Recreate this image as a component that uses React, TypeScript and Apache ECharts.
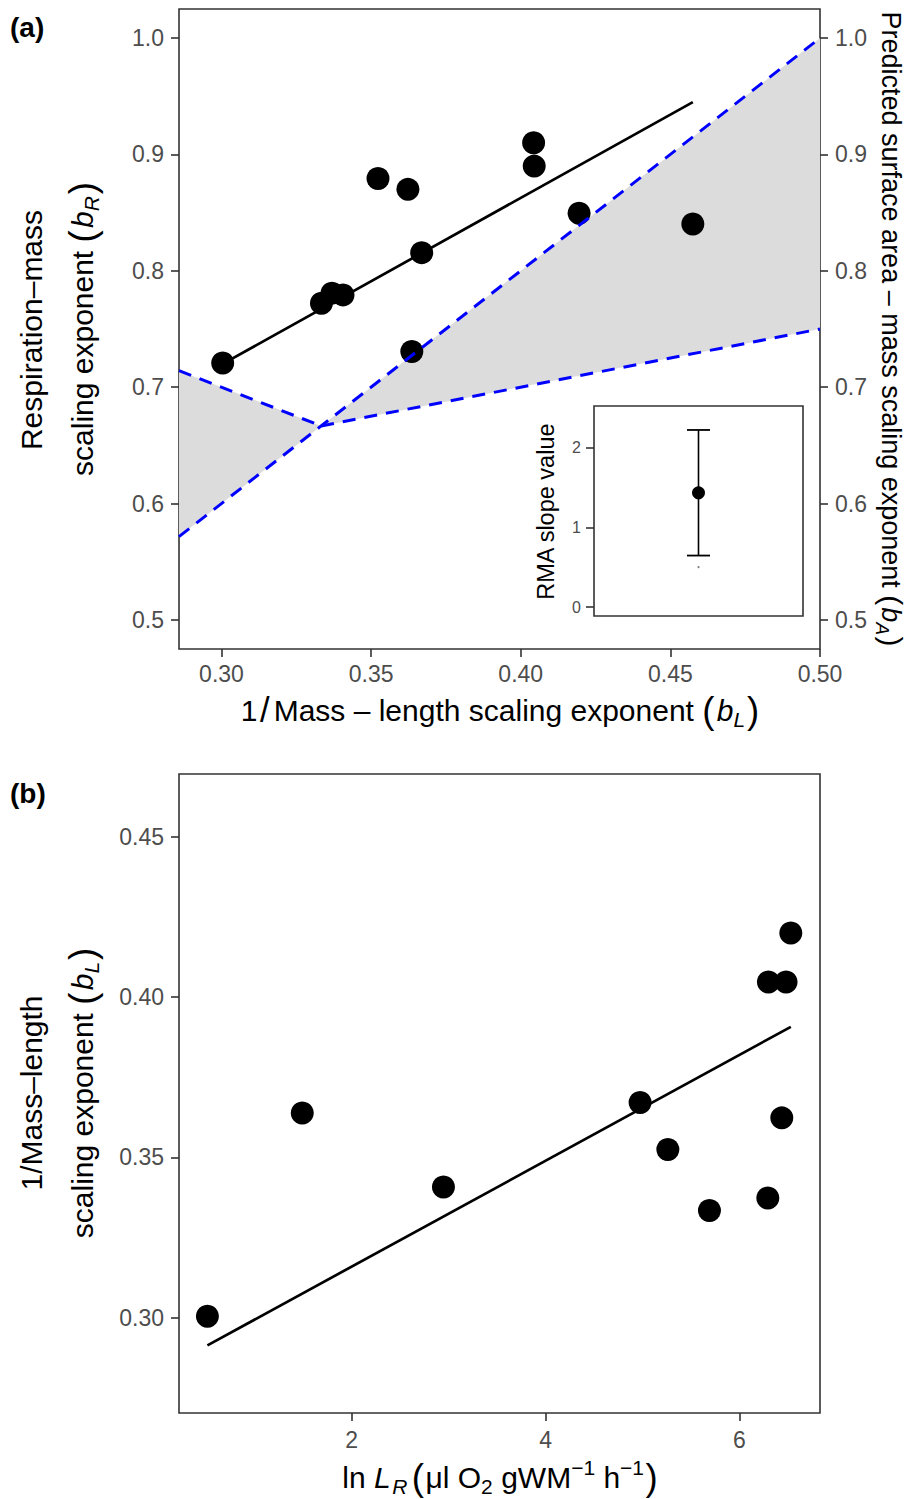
import React, { useEffect, useRef } from "react";
import * as echarts from "echarts";

const FONT = '"Liberation Sans", Arial, Helvetica, sans-serif';
const TICK_TEXT = "#4D4D4D";
const FRAME = "#333333";

// ---------------- Panel (a): b_R vs b_L ----------------
const aBL = [0.3004, 0.3334, 0.3369, 0.3406, 0.3523, 0.3623, 0.3669, 0.3636, 0.4043, 0.4045, 0.4195, 0.4575];
const aBR = [0.7208, 0.7722, 0.7808, 0.7793, 0.8794, 0.87, 0.8156, 0.7307, 0.91, 0.89, 0.8494, 0.8402];
const aFitBL = [0.3004, 0.4575];
const aFitBR = [0.72, 0.945];
// predicted surface-area exponent boundaries (dashed blue)
const isoBL = [0.2858, 0.3333, 0.5];
const isoBA = [0.5716, 0.6667, 1.0];
const leftBL = [0.2858, 0.3333];
const leftBA = [0.7142, 0.6667];
const rightBL = [0.3333, 0.5];
const rightBA = [0.6667, 0.75];
const aXTicks = [0.3, 0.35, 0.4, 0.45, 0.5];
const aYTicks = [0.5, 0.6, 0.7, 0.8, 0.9, 1.0];
const aXRange = [0.2858, 0.5];
const aYRange = [0.475, 1.025];

// ---------------- Inset: RMA slope ----------------
const rmaSlope = [1.434];
const rmaLower = [0.646];
const rmaUpper = [2.223];
const rmaMinorDot = [0.5];
const insetYTicks = [0, 1, 2];
const insetYRange = [-0.113, 2.524];

// ---------------- Panel (b): b_L vs ln L_R ----------------
const bLnLR = [0.513, 1.491, 2.947, 4.975, 5.261, 5.69, 6.292, 6.436, 6.298, 6.48, 6.529];
const bBL = [0.3004, 0.3638, 0.3407, 0.3671, 0.3524, 0.3334, 0.3373, 0.3623, 0.4047, 0.4047, 0.42];
const bFitLnLR = [0.513, 6.529];
const bFitBL = [0.2913, 0.3907];
const bXTicks = [2, 4, 6];
const bYTicks = [0.3, 0.35, 0.4, 0.45];
const bXRange = [0.22, 6.83];
const bYRange = [0.2702, 0.4696];

// ---------------- text helpers ----------------
type Part = { t?: string; it?: boolean; sub?: boolean; sup?: boolean; big?: number; gap?: number };
let measureCtx: CanvasRenderingContext2D | null = null;
function measure(text: string, size: number, italic: boolean, bold = false) {
  if (!measureCtx) measureCtx = document.createElement("canvas").getContext("2d");
  if (!measureCtx) return text.length * size * 0.55;
  measureCtx.font = `${italic ? "italic" : "normal"} ${bold ? "bold" : "normal"} ${size}px ${FONT}`;
  return measureCtx.measureText(text).width;
}
function mathLabel(parts: Part[], f: number, x: number, y: number, rotation = 0, color = "#000") {
  const items = parts.map((p) => {
    const size = p.sub || p.sup ? f * 0.7 : p.big ? f * p.big : f;
    const w = p.gap != null ? p.gap * f : measure(p.t || "", size, !!p.it);
    return { p, size, w };
  });
  const total = items.reduce((s, it) => s + it.w, 0);
  let cur = -total / 2;
  const children: any[] = [];
  for (const it of items) {
    if (it.p.t) {
      children.push({
        type: "text",
        x: cur,
        y: it.p.sub ? f * 0.3 : it.p.sup ? -f * 0.33 : 0,
        style: {
          text: it.p.t,
          fontSize: it.size,
          fontFamily: FONT,
          fontStyle: it.p.it ? "italic" : "normal",
          fill: color,
          align: "left",
          verticalAlign: "middle",
        },
      });
    }
    cur += it.w;
  }
  return { type: "group", x, y, rotation, children, silent: true };
}
const paren = (inner: Part[], big = 1.22): Part[] => [
  { t: "(", big },
  { gap: 0.08 },
  ...inner,
  { gap: 0.06 },
  { t: ")", big },
];

const aYTitle1: Part[] = [{ t: "Respiration–mass" }];
const aYTitle2: Part[] = [{ t: "scaling exponent " }, ...paren([{ t: "b", it: true }, { t: "R", it: true, sub: true }])];
const aY2Title: Part[] = [
  { t: "Predicted surface area – mass scaling exponent " },
  ...paren([{ t: "b", it: true }, { t: "A", it: true, sub: true }], 1.1),
];
const aXTitle: Part[] = [
  { t: "1" },
  { gap: 0.08 },
  { t: "/", big: 1.15 },
  { gap: 0.14 },
  { t: "Mass – length scaling exponent " },
  ...paren([{ t: "b", it: true }, { t: "L", it: true, sub: true }]),
];
const bYTitle1: Part[] = [{ t: "1/Mass–length" }];
const bYTitle2: Part[] = [{ t: "scaling exponent " }, ...paren([{ t: "b", it: true }, { t: "L", it: true, sub: true }])];
const bXTitle: Part[] = [
  { t: "ln " },
  { t: "L", it: true },
  { gap: 0.05 },
  { t: "R", it: true, sub: true },
  { gap: 0.15 },
  { t: "(", big: 1.22 },
  { gap: 0.05 },
  { t: "μl O" },
  { t: "2", sub: true },
  { t: " gWM" },
  { t: "−1", sup: true },
  { t: " h" },
  { t: "−1", sup: true },
  { gap: 0.05 },
  { t: ")", big: 1.22 },
];

function valueAxis(grid: number, range: number[], ticks: number[], fmt: (v: number) => string, extra: any = {}) {
  return {
    type: "value",
    gridIndex: grid,
    min: range[0],
    max: range[1],
    axisLine: { show: false, onZero: false },
    splitLine: { show: false },
    axisTick: {
      show: true,
      inside: false,
      length: extra.tickLength ?? 8,
      lineStyle: { color: FRAME, width: 1.6 },
      customValues: ticks,
    },
    axisLabel: {
      show: true,
      customValues: ticks,
      formatter: (v: number) => fmt(v),
      color: TICK_TEXT,
      fontSize: extra.fontSize ?? 23,
      fontFamily: FONT,
      margin: extra.margin ?? 14,
    },
    position: extra.position,
  };
}

function buildOption() {
  const pairs = (xs: number[], ys: number[]) => xs.map((x, i) => [x, ys[i]]);
  const leftTri = [isoBL[0], isoBA[0], isoBL[1], isoBA[1], leftBL[0], leftBA[0]];
  const rightTri = [isoBL[1], isoBA[1], isoBL[2], isoBA[2], rightBL[1], rightBA[1]];
  const blueStyle = { color: "#0000FF", width: 3, type: [13, 9] as any, cap: "butt" };
  const dot = { color: "#000", opacity: 1 };

  return {
    animation: false,
    backgroundColor: "#ffffff",
    grid: [
      { left: 179, top: 9, width: 641, height: 640, show: true, borderColor: FRAME, borderWidth: 1.6, backgroundColor: "transparent" },
      { left: 594, top: 406, width: 209, height: 210, show: true, borderColor: FRAME, borderWidth: 1.6, backgroundColor: "#ffffff" },
      { left: 179, top: 774, width: 641, height: 639, show: true, borderColor: FRAME, borderWidth: 1.6, backgroundColor: "transparent" },
    ],
    xAxis: [
      valueAxis(0, aXRange, aXTicks, (v) => v.toFixed(2), { margin: 13, position: "bottom" }),
      {
        type: "value",
        gridIndex: 1,
        min: -1,
        max: 1,
        show: false,
        axisLine: { show: false, onZero: false },
        axisTick: { show: false },
        axisLabel: { show: false },
        splitLine: { show: false },
      },
      valueAxis(2, bXRange, bXTicks, (v) => String(Math.round(v)), { margin: 15, position: "bottom" }),
    ],
    yAxis: [
      valueAxis(0, aYRange, aYTicks, (v) => v.toFixed(1), { margin: 15, position: "left" }),
      valueAxis(0, aYRange, aYTicks, (v) => v.toFixed(1), { margin: 15, position: "right" }),
      valueAxis(1, insetYRange, insetYTicks, (v) => String(Math.round(v)), { margin: 13, fontSize: 16, tickLength: 8, position: "left" }),
      valueAxis(2, bYRange, bYTicks, (v) => v.toFixed(2), { margin: 15, position: "left" }),
    ],
    series: [
      {
        type: "custom",
        xAxisIndex: 0,
        yAxisIndex: 0,
        z: 1,
        silent: true,
        data: [leftTri, rightTri],
        dimensions: ["x1", "y1", "x2", "y2", "x3", "y3"],
        encode: { x: [0, 2, 4], y: [1, 3, 5] },
        renderItem: (_p: any, api: any) => {
          const pts = [0, 1, 2].map((i) => api.coord([api.value(2 * i), api.value(2 * i + 1)]));
          return { type: "polygon", shape: { points: pts }, style: { fill: "#DCDCDC" } };
        },
      },
      {
        type: "line",
        xAxisIndex: 0,
        yAxisIndex: 0,
        z: 2,
        symbol: "none",
        data: pairs(aFitBL, aFitBR),
        lineStyle: { color: "#000", width: 2.7 },
      },
      {
        type: "scatter",
        xAxisIndex: 0,
        yAxisIndex: 0,
        z: 3,
        symbol: "circle",
        symbolSize: 23,
        itemStyle: dot,
        data: pairs(aBL, aBR),
      },
      { type: "line", xAxisIndex: 0, yAxisIndex: 0, z: 4, symbol: "none", data: pairs(isoBL, isoBA), lineStyle: blueStyle },
      { type: "line", xAxisIndex: 0, yAxisIndex: 0, z: 4, symbol: "none", data: pairs(leftBL, leftBA), lineStyle: blueStyle },
      { type: "line", xAxisIndex: 0, yAxisIndex: 0, z: 4, symbol: "none", data: pairs(rightBL, rightBA), lineStyle: blueStyle },
      // inset: error bar stem
      {
        type: "line",
        xAxisIndex: 1,
        yAxisIndex: 2,
        z: 5,
        symbol: "none",
        data: [
          [0, rmaLower[0]],
          [0, rmaUpper[0]],
        ],
        lineStyle: { color: "#000", width: 1.6 },
      },
      // inset: error bar caps
      {
        type: "scatter",
        xAxisIndex: 1,
        yAxisIndex: 2,
        z: 5,
        symbol: "rect",
        symbolSize: [23, 1.8],
        itemStyle: dot,
        data: [
          [0, rmaLower[0]],
          [0, rmaUpper[0]],
        ],
      },
      {
        type: "scatter",
        xAxisIndex: 1,
        yAxisIndex: 2,
        z: 6,
        symbolSize: 13,
        itemStyle: dot,
        data: rmaSlope.map((v) => [0, v]),
      },
      {
        type: "scatter",
        xAxisIndex: 1,
        yAxisIndex: 2,
        z: 6,
        symbolSize: 2,
        itemStyle: { color: "#777", opacity: 1 },
        data: rmaMinorDot.map((v) => [0, v]),
      },
      {
        type: "line",
        xAxisIndex: 2,
        yAxisIndex: 3,
        z: 2,
        symbol: "none",
        data: pairs(bFitLnLR, bFitBL),
        lineStyle: { color: "#000", width: 2.7 },
      },
      {
        type: "scatter",
        xAxisIndex: 2,
        yAxisIndex: 3,
        z: 3,
        symbol: "circle",
        symbolSize: 23,
        itemStyle: dot,
        data: pairs(bLnLR, bBL),
      },
    ],
    graphic: {
      elements: [
        {
          type: "text",
          x: 10,
          y: 27,
          silent: true,
          style: { text: "(a)", fontSize: 28, fontWeight: "bold", fontFamily: FONT, fill: "#000", align: "left", verticalAlign: "middle" },
        },
        {
          type: "text",
          x: 10,
          y: 793,
          silent: true,
          style: { text: "(b)", fontSize: 28, fontWeight: "bold", fontFamily: FONT, fill: "#000", align: "left", verticalAlign: "middle" },
        },
        mathLabel(aYTitle1, 30, 31, 330, Math.PI / 2),
        mathLabel(aYTitle2, 30, 82, 329, Math.PI / 2),
        mathLabel(aY2Title, 27, 891, 329, -Math.PI / 2),
        mathLabel(aXTitle, 30, 500, 710, 0),
        mathLabel([{ t: "RMA slope value" }], 23.5, 546, 511, Math.PI / 2),
        mathLabel(bYTitle1, 30, 31, 1093, Math.PI / 2),
        mathLabel(bYTitle2, 30, 82, 1093, Math.PI / 2),
        mathLabel(bXTitle, 30, 500, 1477, 0),
      ],
    },
  };
}

export default function App() {
  const ref = useRef<HTMLDivElement>(null);
  useEffect(() => {
    if (!ref.current) return;
    const chart = echarts.init(ref.current, undefined, { renderer: "svg" });
    chart.setOption(buildOption() as any);
    return () => chart.dispose();
  }, []);
  return (
    <div
      ref={ref}
      style={{ position: "absolute", left: 0, top: 0, width: 907, height: 1499, background: "#ffffff" }}
    />
  );
}
